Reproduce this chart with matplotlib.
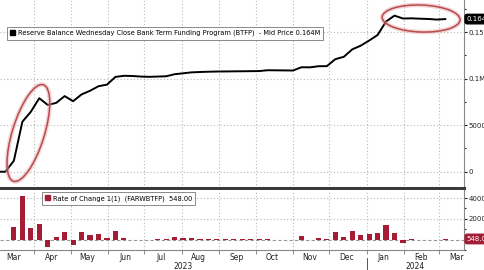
import matplotlib
matplotlib.use('Agg')
import matplotlib.pyplot as plt
import matplotlib.dates as mdates
import matplotlib.ticker as ticker
import matplotlib.transforms as mtransforms
from matplotlib.patches import Ellipse, Patch
import pandas as pd

# weekly (Wednesday) BTFP balance, millions
dates = pd.date_range('2023-03-01', '2024-03-06', freq='W-WED')
btfp = [0, 0, 11900, 53700, 64400, 79000, 71800, 74000, 81300, 75800,
        83100, 87000, 91900, 93600, 101900, 103100, 102900, 102300, 102000, 102300,
        102600, 104800, 105800, 106800, 107200, 107500, 107700, 107800, 107900, 108000,
        108100, 108200, 109100, 109000, 108900, 108800, 112300, 112200, 113400, 113500,
        121000, 123500, 131500, 135500, 141000, 147000, 161500, 167800, 164700, 164900,
        164500, 164200, 163550, 164100]
# weekly change, millions
change = [0, 0, 11900, 41800, 10700, 14600, -7200, 2200, 7300, -5500,
          7300, 3900, 4900, 1700, 8300, 1200, -200, -600, -300, 300,
          300, 2200, 1000, 1000, 400, 300, 200, 100, 100, 100,
          100, 100, 900, -100, -100, -100, 3500, -100, 1200, 100,
          7500, 2500, 8000, 4000, 5500, 6000, 14500, 6300, -3100, 200,
          -400, -300, -650, 548]

top_ticks = [0, 50000, 100000, 150000]
top_labels = ['0', '50000', '0.1M', '0.15M']
bot_ticks = [20000, 40000]
bot_labels = ['20000', '40000']

line_label = 'Reserve Balance Wednesday Close Bank Term Funding Program (BTFP)  - Mid Price 0.164M'
bar_label = 'Rate of Change 1(1)  (FARWBTFP)  548.00'

plt.rcParams['font.family'] = ['DejaVu Sans']
W, H = 485, 270
fig = plt.figure(figsize=(W / 100, H / 100), dpi=100)
fig.patch.set_facecolor('white')

ax1 = fig.add_axes([0, 1 - 188 / H, 464 / W, 188 / H])
ax2 = fig.add_axes([0, 20 / H, 464 / W, 60 / H])

xmin, xmax = pd.Timestamp('2023-03-03 12:00'), pd.Timestamp('2024-03-21 12:00')
grid_kw = dict(color='#b8b8b8', linestyle=(0, (1, 2)), linewidth=0.8)

for ax in (ax1, ax2):
    ax.set_xlim(xmin, xmax)
    ax.yaxis.tick_right()
    for s in ('left', 'top'):
        ax.spines[s].set_visible(False)
    ax.spines['right'].set_color('#888888')
    ax.spines['right'].set_linewidth(0.8)
    ax.xaxis.set_major_locator(mdates.MonthLocator())
    ax.xaxis.set_minor_locator(mdates.MonthLocator(bymonthday=15))
    ax.grid(True, axis='x', which='major', **grid_kw)
    ax.tick_params(axis='y', which='both', direction='out', colors='#222222',
                   labelsize=5.0, length=2.5, width=0.8, pad=1.0)
    ax.tick_params(axis='y', which='minor', length=1.5)

# top panel
ax1.plot(dates, btfp, color='black', linewidth=1.4, zorder=3)
ax1.set_ylim(-17500, 184600)
ax1.set_yticks(top_ticks)
ax1.set_yticklabels(top_labels)
ax1.yaxis.set_minor_locator(ticker.MultipleLocator(25000))
ax1.grid(True, axis='y', which='major', **grid_kw)
ax1.spines['bottom'].set_color('#3a3a3a')
ax1.spines['bottom'].set_linewidth(2.2)
ax1.tick_params(axis='x', which='both', bottom=False, labelbottom=False)

leg1 = ax1.legend([Patch(facecolor='black', edgecolor='black')], [line_label],
                  loc='upper left', bbox_to_anchor=(7 / 464, 1 - 27 / 188),
                  fontsize=4.8, frameon=True, fancybox=False, handlelength=0.8,
                  handleheight=0.8, handletextpad=0.4, borderpad=0.45,
                  borderaxespad=0)
leg1.get_frame().set_edgecolor('#555555')
leg1.get_frame().set_linewidth(0.6)

ax1.text(1.006, 164100, '0.164M', transform=ax1.get_yaxis_transform(),
         color='white', fontsize=5.0, va='center', ha='left',
         bbox=dict(boxstyle='round,pad=0.25,rounding_size=0.3', fc='black', ec='black'),
         clip_on=False)

# highlight ellipses (pixel sized, anchored on the data)
ident = mtransforms.IdentityTransform()
ellipses = [((pd.Timestamp('2023-03-27'), 41600), 101, 32, 72.8),
            ((pd.Timestamp('2024-02-15'), 164700), 78, 27, -2)]
for (d, v), ew, eh, ang in ellipses:
    cx, cy = ax1.transData.transform((mdates.date2num(d), v))
    for lw, col, al in ((3.2, '#e3a0a0', 0.45), (1.1, '#b94a4f', 1.0)):
        e = Ellipse((cx, cy), ew, eh, angle=ang, transform=ident, fill=False,
                    edgecolor=col, linewidth=lw, alpha=al, zorder=5)
        fig.add_artist(e)

# bottom panel
bar_colors = ['#a51d35'] * len(change)
ax2.bar(dates, change, width=4.3, color=bar_colors, zorder=3)
ax2.set_ylim(-10100, 47800)
ax2.set_yticks(bot_ticks)
ax2.set_yticklabels(bot_labels)
ax2.yaxis.set_minor_locator(ticker.MultipleLocator(10000))
ax2.grid(True, axis='y', which='major', **grid_kw)
ax2.axhline(0, color='#9a9a9a', linewidth=0.8, linestyle=(0, (3, 2)), zorder=2)
ax2.spines['bottom'].set_color('#888888')
ax2.spines['bottom'].set_linewidth(0.8)

ax2.xaxis.set_major_formatter(ticker.NullFormatter())
ax2.xaxis.set_minor_formatter(mdates.DateFormatter('%b'))
ax2.tick_params(axis='x', which='major', length=3, color='#888888', width=0.7)
ax2.tick_params(axis='x', which='minor', length=0, labelsize=5.5,
                labelcolor='#222222', pad=2.5)

leg2 = ax2.legend([Patch(facecolor='#a51d35', edgecolor='#a51d35')], [bar_label],
                  loc='upper left', bbox_to_anchor=(42 / 464, 1 - 2 / 60),
                  fontsize=4.8, frameon=True, fancybox=False, handlelength=0.8,
                  handleheight=0.8, handletextpad=0.4, borderpad=0.45,
                  borderaxespad=0)
leg2.get_frame().set_edgecolor('#555555')
leg2.get_frame().set_linewidth(0.6)

ax2.text(1.006, 548, '548.00', transform=ax2.get_yaxis_transform(),
         color='white', fontsize=5.0, va='center', ha='left',
         bbox=dict(boxstyle='round,pad=0.25,rounding_size=0.3', fc='#a51d35', ec='#a51d35'),
         clip_on=False)

# year labels under the months
ytr = ax2.get_xaxis_transform()
jan = pd.Timestamp('2024-01-01')
ax2.text(xmin + (jan - xmin) / 2, -0.27, '2023', transform=ytr, ha='center',
         va='center', fontsize=5.5, color='#222222')
ax2.text(jan + (xmax - jan) / 2, -0.27, '2024', transform=ytr, ha='center',
         va='center', fontsize=5.5, color='#222222')
ax2.plot([jan, jan], [-0.14, -0.34], transform=ytr, color='#555555',
         linewidth=0.7, clip_on=False)

fig.savefig('out.png', dpi=100)
